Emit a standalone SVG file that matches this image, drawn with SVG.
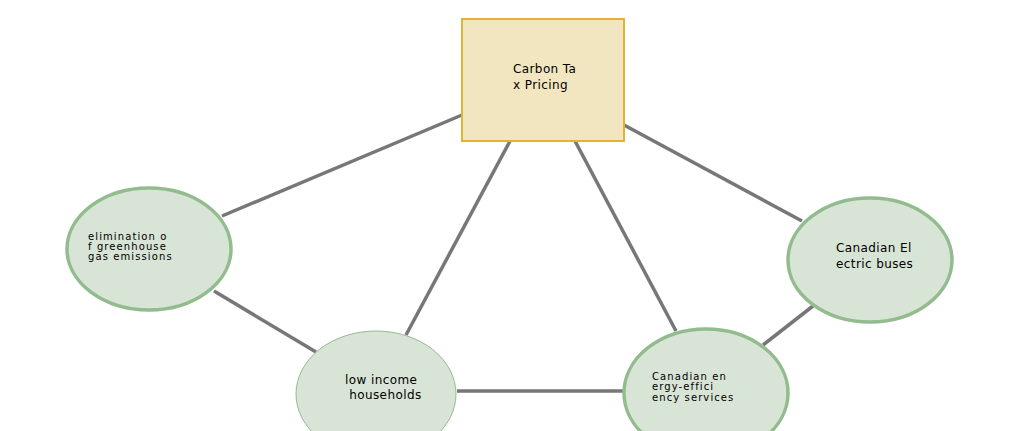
<svg xmlns="http://www.w3.org/2000/svg" width="1027" height="431" viewBox="0 0 1027 431">
<style>
.e{stroke:#777;stroke-width:3.5;fill:none}
.n{fill:#d8e4d6;stroke:#92bb8e;stroke-width:3.5}
.thin{stroke-width:1}
.t{font-family:"DejaVu Sans",sans-serif;font-size:12px;letter-spacing:0.4px;fill:#000;white-space:pre}
.s{font-size:10px;letter-spacing:1.1px}
</style>
<rect width="1027" height="431" fill="#fff"/>
<g id="connectors">
<line class="e" x1="462" y1="115" x2="222" y2="216"/>
<line class="e" x1="510" y1="141" x2="406" y2="335"/>
<line class="e" x1="575" y1="141" x2="676" y2="331"/>
<line class="e" x1="624" y1="125" x2="802" y2="221"/>
<line class="e" x1="214" y1="291" x2="316" y2="352"/>
<line class="e" x1="457" y1="391" x2="623" y2="391"/>
<line class="e" x1="813" y1="306" x2="763" y2="345"/>
</g>
<g id="carbon">
<rect x="462" y="19" width="162" height="122" fill="#f2e6c0" stroke="#e2b233" stroke-width="2"/>
<text class="t" x="513" y="73">Carbon Ta</text>
<text class="t" x="513" y="89">x Pricing</text>
</g>
<g id="elimination">
<ellipse class="n" cx="149" cy="249" rx="82" ry="61"/>
<text class="t s" x="88" y="240">elimination o</text>
<text class="t s" x="88" y="250">f greenhouse</text>
<text class="t s" x="88" y="260">gas emissions</text>
</g>
<g id="buses">
<ellipse class="n" cx="870" cy="260" rx="82" ry="62"/>
<text class="t" x="836" y="252">Canadian El</text>
<text class="t" x="836" y="268">ectric buses</text>
</g>
<g id="lowincome">
<ellipse class="n thin" cx="376" cy="394" rx="80" ry="63"/>
<text class="t" x="345" y="384">low income</text>
<text class="t" x="345" y="399"> households</text>
</g>
<g id="energy">
<ellipse class="n" cx="706" cy="393" rx="82" ry="64"/>
<text class="t s" x="652" y="380">Canadian en</text>
<text class="t s" x="652" y="390">ergy-effici</text>
<text class="t s" x="652" y="401">ency services</text>
</g>
</svg>
